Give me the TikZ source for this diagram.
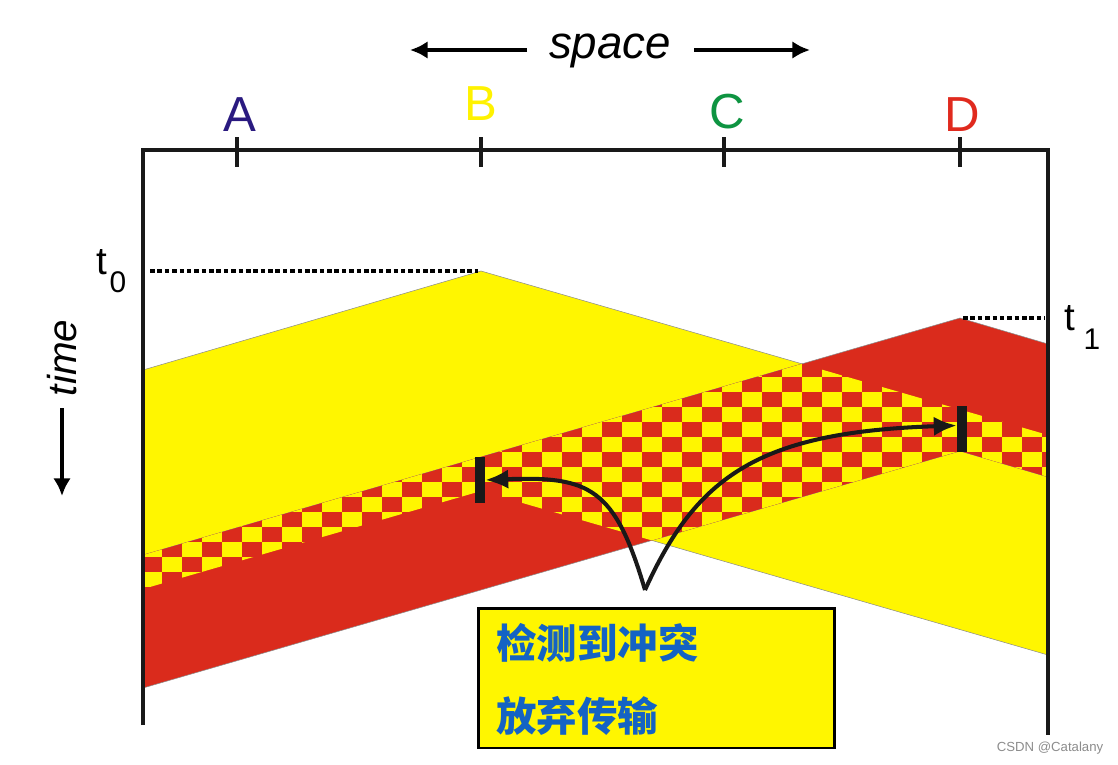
\documentclass[tikz,border=0pt]{standalone}
\usepackage{fontspec}
\setmainfont{Liberation Sans}
\newfontfamily\cjk{Noto Sans CJK SC}
\usetikzlibrary{arrows.meta}
\definecolor{yel}{HTML}{FFF600}
\definecolor{rd}{HTML}{DA2B1C}
\definecolor{blu}{HTML}{1463C4}
\definecolor{labA}{HTML}{2A1A80}
\definecolor{labB}{HTML}{FFF200}
\definecolor{labC}{HTML}{0E9441}
\definecolor{labD}{HTML}{E02A1E}
\begin{document}
\begin{tikzpicture}[x=0.02cm,y=-0.02cm,
  axis/.style={line width=2.2pt, black!90},
  band/.style={draw=black!45, line width=0.3pt},
  bar/.style={fill=black!90, minimum width=0.2cm, minimum height=0.92cm, inner sep=0pt},
  lab/.style={font=\fontsize{28}{30}\selectfont, inner sep=0pt},
  tlab/.style={font=\fontsize{22}{24}\selectfont, inner sep=0pt},
  tsub/.style={font=\fontsize{17}{19}\selectfont, inner sep=0pt},
  conn/.style={line width=2.3pt, black!90, -{Latex[length=13pt,width=11pt]}},
  bigarrow/.style={line width=2.2pt, -{Latex[length=10pt,width=10pt]}},
  dotline/.style={line width=1.8pt, black, dash pattern=on 2.6pt off 1.6pt},
  cjktext/.style={font=\cjk\bfseries\fontsize{23}{26}\selectfont, text=blu, anchor=west, inner sep=0pt},
  infobox/.style={draw=black, line width=1.7pt, fill=yel, minimum width=7.14cm, minimum height=2.8cm, inner sep=0pt}]
\useasboundingbox (0,0) rectangle (1118,764);
% bands
\fill[yel,band] (143,370) -- (481,271) -- (1048,435) -- (1048,655) -- (481,491) -- (143,589) -- cycle;
\fill[rd,band] (143,555) -- (960,318) -- (1048,344) -- (1048,477) -- (960,451) -- (143,688) -- cycle;
% checkered overlap
\begin{scope}
  \clip (143,370) -- (481,271) -- (1048,435) -- (1048,655) -- (481,491) -- (143,589) -- cycle;
  \clip (143,555) -- (960,318) -- (1048,344) -- (1048,477) -- (960,451) -- (143,688) -- cycle;
  \fill[rd] (140,300) rectangle (1050,700);
  \foreach \i in {0,...,45}{
    \foreach \j in {22,...,41}{
      \pgfmathtruncatemacro{\k}{mod(\i+\j,2)}
      \ifnum\k=0
        \fill[yel] (142+20*\i,2+15*\j) rectangle ++(20,15);
      \fi
    }
  }
\end{scope}
% axes
\draw[axis] (143,725) -- (143,150) -- (1048,150) -- (1048,735);
\foreach \x in {237,481,724,960}{
  \draw[axis] (\x,137) -- (\x,167);
}
% station labels
\node[lab, text=labA] (A) at (240,115) {A};
\node[lab, text=labB] (B) at (481,104) {B};
\node[lab, text=labC] (C) at (727,112) {C};
\node[lab, text=labD] (D) at (962,115) {D};
% space
\node[font=\itshape\fontsize{26}{28}\selectfont, inner sep=0pt] (space) at (610,51) {space};
\coordinate (spL0) at (527,50);
\coordinate (spL) at (410,50);
\coordinate (spR0) at (694,50);
\coordinate (spR) at (810,50);
\draw[bigarrow] (spL0) -- (spL);
\draw[bigarrow] (spR0) -- (spR);
% time
\node[rotate=90, font=\itshape\fontsize{23}{25}\selectfont, inner sep=0pt] (time) at (62,358) {time};
\coordinate (tup) at (62,408);
\coordinate (tdown) at (62,496);
\draw[bigarrow] (tup) -- (tdown);
% t0, t1
\node[tlab] (t0) at (102,262) {t};
\node[tsub] (t0s) at (118,282) {0};
\node[tlab] (t1) at (1070,318) {t};
\node[tsub] (t1s) at (1092,339) {1};
\coordinate (t0a) at (150,271);
\coordinate (t0b) at (478,271);
\coordinate (t1a) at (963,318);
\coordinate (t1b) at (1045,318);
\draw[dotline] (t0a) -- (t0b);
\draw[dotline] (t1a) -- (t1b);
% bars
\node[bar] (barB) at (480,480) {};
\node[bar] (barD) at (962,429) {};
% arrows
\coordinate (v) at (645,590);
\draw[conn] (v) .. controls (615,488) and (590,476) .. (barB.east);
\draw[conn] (v) .. controls (697,475) and (760,432) .. ([yshift=0.07cm]barD.west);
% info box
\node[infobox] (box) at (656.5,678) {};
\node[cjktext] (l1) at (496,643) {检测到冲突};
\node[cjktext] (l2) at (496,716) {放弃传输};
% watermark
\node[text=black!45, font=\fontsize{7.5}{9}\selectfont, inner sep=0pt] (wm) at (1050,748) {CSDN @Catalany};
\end{tikzpicture}
\end{document}
